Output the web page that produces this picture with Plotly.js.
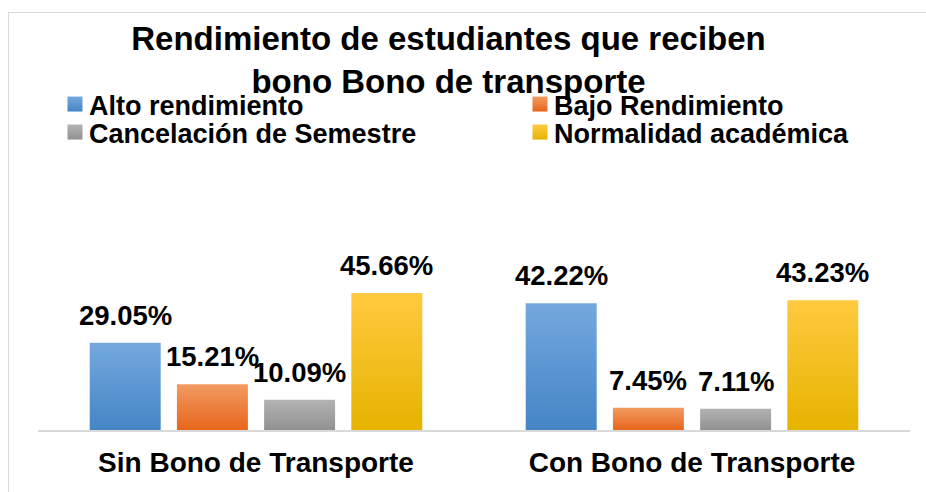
<!DOCTYPE html>
<html>
<head>
<meta charset="utf-8">
<script src="https://cdn.plot.ly/plotly-3.0.1.min.js"></script>
<style>
  html, body { margin: 0; padding: 0; background: #ffffff; overflow: hidden; }
  #wrap { position: relative; width: 926px; height: 492px; }
  #chart { position: absolute; left: 0; top: 0; width: 926px; height: 492px; }
  #frame { position: absolute; left: 8px; top: 12px; width: 1000px; height: 600px;
           border: 1.5px solid #d9d9d9; pointer-events: none; box-sizing: border-box; }
</style>
</head>
<body>
<div id="wrap">
  <div id="frame"></div>
  <div id="chart"></div>
</div>
<script>
const categories = ['Sin Bono de Transporte', 'Con Bono de Transporte'];
const seriesNames = ['Alto rendimiento', 'Bajo Rendimiento', 'Cancelación de Semestre', 'Normalidad académica'];
const altoRendimiento = [29.05, 42.22];
const bajoRendimiento = [15.21, 7.45];
const cancelacionSemestre = [10.09, 7.11];
const normalidadAcademica = [45.66, 43.23];

const seriesValues = [altoRendimiento, bajoRendimiento, cancelacionSemestre, normalidadAcademica];
const colors = ['#5b9bd5', '#ed7d31', '#a5a5a5', '#fbc100'];
const gradTop = ['#74a8de', '#f29a62', '#b3b3b3', '#ffca3f'];
const gradBottom = ['#4585c6', '#e7661b', '#919191', '#e6b300'];
const legendIds = ['legend', 'legend2', 'legend3', 'legend4'];

const FONT = 'Liberation Sans, Arial, Helvetica, sans-serif';
const W = 926, H = 492;
const M = { l: 38, r: 16, t: 130, b: 62 };
const BARGAP = 0.2;

const traces = seriesValues.map((vals, i) => ({
  type: 'bar',
  name: seriesNames[i],
  x: categories,
  y: vals,
  marker: { color: colors[i] },
  legend: legendIds[i],
  hoverinfo: 'skip'
}));

// data labels above each bar (offset to the bar's slot inside its group)
const plotW = W - M.l - M.r;
const slotPx = (plotW / categories.length) * (1 - BARGAP) / seriesValues.length;
const annotations = [];
seriesValues.forEach((vals, i) => {
  vals.forEach((v, j) => {
    annotations.push({
      x: categories[j], y: v, xref: 'x', yref: 'y',
      text: v.toFixed(2) + '%',
      showarrow: false,
      xanchor: 'center', yanchor: 'bottom',
      xshift: (i - (seriesValues.length - 1) / 2) * slotPx,
      yshift: 10,
      font: { family: FONT, size: 27.5, color: '#000000', weight: 700 }
    });
  });
});

const legendCommon = {
  orientation: 'h',
  xref: 'container', yref: 'container',
  xanchor: 'left', yanchor: 'middle',
  font: { family: FONT, size: 27, color: '#000000', weight: 700 },
  bgcolor: 'rgba(0,0,0,0)',
  itemclick: false, itemdoubleclick: false
};
const col1 = 49 / W, col2 = 514 / W;
const row1 = 1 - 104.5 / H, row2 = 1 - 132.5 / H;

const layout = {
  width: W, height: H,
  margin: Object.assign({ autoexpand: false }, M),
  paper_bgcolor: 'rgba(0,0,0,0)',
  plot_bgcolor: 'rgba(0,0,0,0)',
  font: { family: FONT, color: '#000000' },
  title: {
    text: 'Rendimiento de estudiantes que reciben<br>bono Bono de transporte',
    font: { family: FONT, size: 33, color: '#000000', weight: 700 },
    xref: 'container', yref: 'container',
    x: 448.5 / W, xanchor: 'center',
    y: 1 - 50 / H, yanchor: 'top'
  },
  barmode: 'group',
  bargap: BARGAP,
  bargroupgap: 0.186,
  showlegend: true,
  legend: Object.assign({}, legendCommon, { x: col1, y: row1 }),
  legend2: Object.assign({}, legendCommon, { x: col2, y: row1 }),
  legend3: Object.assign({}, legendCommon, { x: col1, y: row2 }),
  legend4: Object.assign({}, legendCommon, { x: col2, y: row2 }),
  annotations: annotations,
  xaxis: {
    type: 'category',
    range: [-0.5, 1.5],
    showline: true, linecolor: '#d9d9d9', linewidth: 1.5,
    showgrid: false, zeroline: false, ticks: '',
    ticklabelstandoff: 7,
    tickfont: { family: FONT, size: 28, color: '#000000', weight: 700 },
    fixedrange: true
  },
  yaxis: {
    range: [0, 100],
    visible: false,
    showgrid: false, zeroline: false,
    fixedrange: true
  }
};

Plotly.newPlot('chart', traces, layout, { staticPlot: true, displayModeBar: false }).then(gd => {
  // vertical gradient fills like the original bars
  const svg = gd.querySelector('svg.main-svg');
  const ns = 'http://www.w3.org/2000/svg';
  let defs = svg.querySelector('defs');
  if (!defs) { defs = document.createElementNS(ns, 'defs'); svg.insertBefore(defs, svg.firstChild); }
  seriesValues.forEach((_, i) => {
    const lg = document.createElementNS(ns, 'linearGradient');
    lg.setAttribute('id', 'barGrad' + i);
    lg.setAttribute('x1', '0'); lg.setAttribute('y1', '0');
    lg.setAttribute('x2', '0'); lg.setAttribute('y2', '1');
    const s1 = document.createElementNS(ns, 'stop');
    s1.setAttribute('offset', '0'); s1.setAttribute('stop-color', gradTop[i]);
    const s2 = document.createElementNS(ns, 'stop');
    s2.setAttribute('offset', '1'); s2.setAttribute('stop-color', gradBottom[i]);
    lg.appendChild(s1); lg.appendChild(s2);
    defs.appendChild(lg);
  });
  gd.querySelectorAll('.barlayer .trace').forEach((tr, i) => {
    tr.querySelectorAll('.point path').forEach(p => { p.style.fill = 'url(#barGrad' + i + ')'; });
  });
  // slightly larger legend swatches, sitting closer to their text, with the same gradient
  legendIds.forEach((id, i) => {
    gd.querySelectorAll('.' + id + ' .legendpoints path').forEach(p => {
      p.setAttribute('d', 'M13.5,7.5H-1.5V-7.5H13.5Z');
      p.style.fill = 'url(#barGrad' + i + ')';
    });
  });
});
</script>
</body>
</html>
